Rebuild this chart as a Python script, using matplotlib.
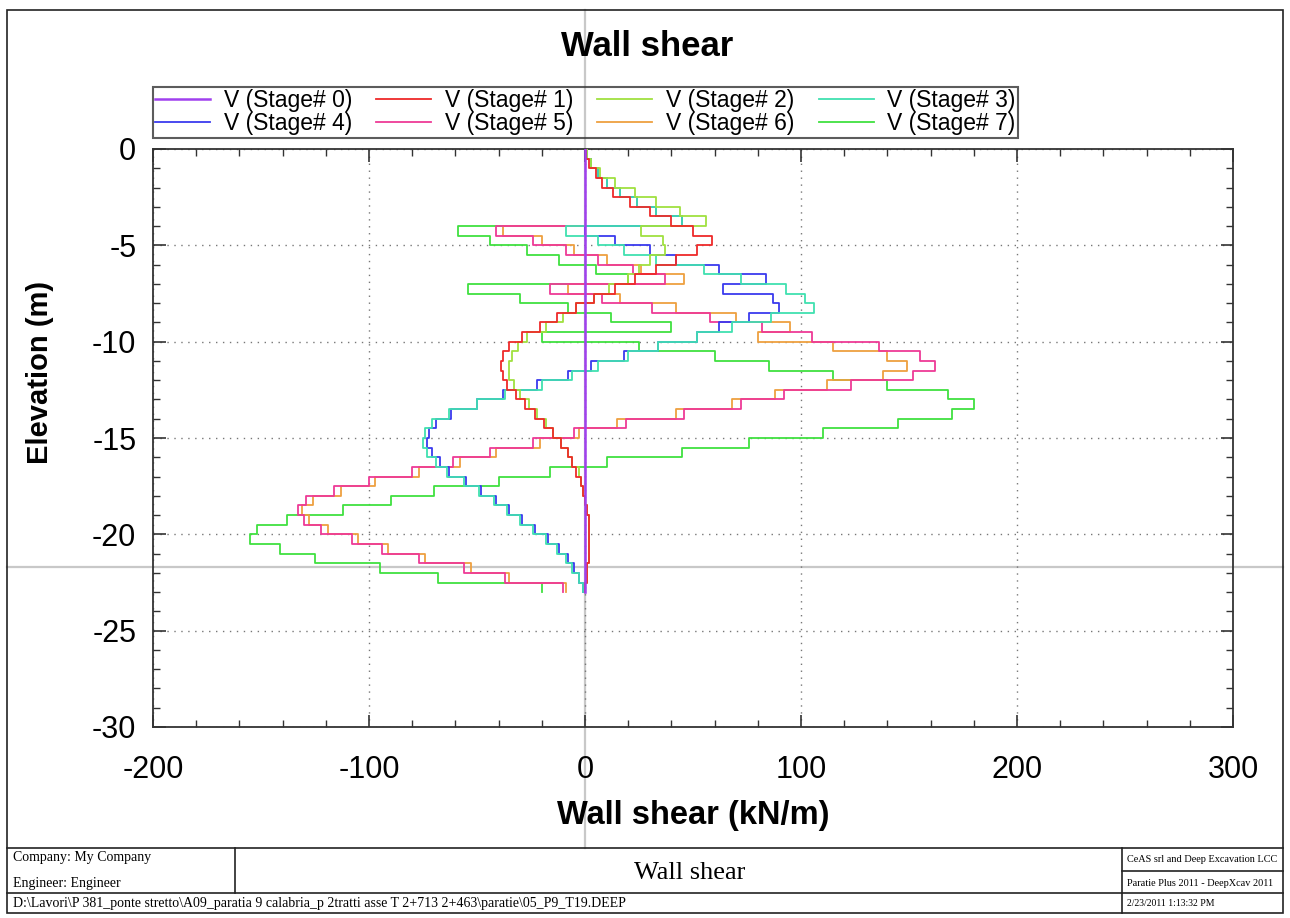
import numpy as np
import matplotlib
matplotlib.use("Agg")
import matplotlib.pyplot as plt
from matplotlib.lines import Line2D
from matplotlib.patches import Rectangle
from matplotlib.ticker import MultipleLocator

plt.rcParams['font.family'] = ['Liberation Sans', 'DejaVu Sans']
plt.rcParams['axes.unicode_minus'] = False

# element boundaries along the wall (m)
elev = [0.0, -0.5, -1.0, -1.5, -2.0, -2.5, -3.0, -3.5, -4.0, -4.5, -5.0, -5.5,
        -6.0, -6.5, -7.0, -7.5, -8.0, -8.5, -9.0, -9.5, -10.0, -10.5, -11.0, -11.5,
        -12.0, -12.5, -13.0, -13.5, -14.0, -14.5, -15.0, -15.5, -16.0, -16.5, -17.0,
        -17.5, -18.0, -18.5, -19.0, -19.5, -20.0, -20.5, -21.0, -21.5, -22.0, -22.5, -23.0]

# shear per element (kN/m), top to bottom
v_stage0 = [0, 0, 0, 0, 0, 0, 0, 0, 0, 0, 0, 0, 0, 0, 0, 0, 0, 0, 0, 0, 0, 0, 0,
            0, 0, 0, 0, 0, 0, 0, 0, 0, 0, 0, 0, 0, 0, 0, 0, 0, 0, 0, 0, 0, 0, 0]
v_stage1 = [0.5, 2, 5, 8, 13, 21, 30, 40, 50, 59, 52, 42, 33, 23, 14, 4, -4, -13, -21, -29,
            -35, -38, -39, -38, -36, -32, -28, -23, -19, -15, -11, -8, -6, -4, -2, -1,
            0, 1, 2, 2, 2, 2, 2, 1, 1, 0]
v_stage2 = [1, 3, 7, 14, 23, 33, 44, 56, 26, 36, 37, 30, 25, 20, 11, 4, -4, -10, -18, -27,
            -31, -34, -35, -35, -33, -30, -26, -22, -18, -15, -11, -8, -6, -3, -2, -1,
            0, 1, 2, 2, 2, 2, 2, 1, 1, 0]
v_stage3 = [1, 3, 6, 10, 16, 24, 33, 45, -9, 6, 18, 33, 55, 72, 93, 102, 106, 86, 68, 52,
            34, 20, 6, -6, -20, -37, -50, -63, -71, -74, -75, -73, -69, -64, -56, -49,
            -42, -36, -30, -24, -18, -13, -9, -6, -3, -1]
v_stage4 = [1, 3, 6, 10, 16, 24, 33, 45, 0, 14, 30, 42, 62, 84, 64, 87, 90, 76, 62, 52,
            34, 18, 3, -8, -22, -38, -50, -62, -69, -72, -73, -71, -67, -63, -55, -48,
            -41, -35, -29, -23, -17, -12, -8, -5, -3, -1]
v_stage5 = [1, 3, 6, 10, 16, 24, 33, 45, -41, -24, -9, 6, 22, 37, -16, 8, 31, 58, 82, 105,
            136, 155, 162, 152, 123, 92, 72, 46, 19, -5, -24, -44, -61, -80, -100, -116,
            -129, -133, -130, -122, -108, -94, -77, -56, -37, -10]
v_stage6 = [1, 3, 6, 10, 16, 24, 33, 45, -38, -20, -5, 10, 26, 46, -8, 16, 42, 70, 95, 80,
            115, 140, 149, 138, 112, 88, 68, 42, 15, -3, -21, -41, -58, -77, -97, -113,
            -126, -131, -128, -119, -105, -91, -74, -53, -35, -9]
v_stage7 = [1, 3, 6, 10, 16, 24, 33, 45, -59, -44, -27, -12, 5, 20, -54, -30, -8, 12, 40, -20,
            25, 60, 85, 115, 140, 168, 180, 170, 145, 110, 76, 45, 10, -16, -40, -70,
            -90, -112, -138, -152, -155, -141, -125, -95, -68, -20]

stages = [v_stage0, v_stage1, v_stage2, v_stage3, v_stage4, v_stage5, v_stage6, v_stage7]
labels = ['V (Stage# %d)' % i for i in range(8)]
colors = ['#a040ee', '#ee2a2a', '#a0e040', '#40e0b0', '#3a3aee', '#ee3a96', '#eea040', '#40e040']

W, H = 1290, 918


def fx(px):
    return px / W


def fy(py):
    return 1 - py / H


fig = plt.figure(figsize=(W / 100, H / 100), dpi=100)
ax = fig.add_axes([fx(153), fy(727), fx(1233) - fx(153), fy(149) - fy(727)])

# step outline: constant shear over each element
zz = np.repeat(elev, 2)[1:-1]
handles = []
for i in range(7, -1, -1):
    xx = np.repeat(stages[i], 2)
    lw = 1.8 if i == 0 else 1.3
    h, = ax.plot(xx, zz, color=colors[i], lw=lw, zorder=5 if i == 0 else 3)
    handles.append(h)
handles = handles[::-1]

# grey crosshair through the whole sheet
ax.axvline(0, ymin=-0.209, ymax=1.24, color='#c8c8c8', lw=1.6, clip_on=False, zorder=1)
ax.axhline(-21.7, xmin=-0.135, xmax=1.0463, color='#c8c8c8', lw=1.6, clip_on=False, zorder=1)

ax.set_xlim(-200, 300)
ax.set_ylim(-30, 0)
ax.xaxis.set_major_locator(MultipleLocator(100))
ax.xaxis.set_minor_locator(MultipleLocator(20))
ax.yaxis.set_major_locator(MultipleLocator(5))
ax.yaxis.set_minor_locator(MultipleLocator(1))
ax.tick_params(which='both', direction='in', top=True, right=True, color='#333333')
ax.tick_params(which='major', length=9, width=1.2, labelsize=22)
ax.tick_params(which='minor', length=5, width=1)
ax.tick_params(axis='x', pad=20)
ax.tick_params(axis='y', pad=12)
ax.grid(True, which='major', linestyle=(0, (1, 4)), color='#777777', lw=1)
for s in ax.spines.values():
    s.set_color('#333333')
    s.set_linewidth(1.3)

ax.set_xlabel('Wall shear (kN/m)', fontsize=23.5, fontweight='bold', labelpad=11)
ax.set_ylabel('Elevation (m)', fontsize=21, fontweight='bold')
ax.yaxis.set_label_coords(-0.0917, 0.614)
fig.text(fx(647), fy(46), 'Wall shear', fontsize=25, fontweight='bold', ha='center', va='center')

order = [0, 4, 1, 5, 2, 6, 3, 7]
leg = fig.legend([handles[i] for i in order], [labels[i] for i in order], ncol=4,
                 loc='upper left', mode='expand', borderaxespad=0,
                 bbox_to_anchor=(fx(153), fy(135), fx(1018) - fx(153), fy(87) - fy(135)),
                 fontsize=16.5, frameon=True, fancybox=False, handlelength=2.4,
                 handletextpad=0.6, labelspacing=0.0, borderpad=0.1, columnspacing=0.8)
leg.get_frame().set_edgecolor('#333333')
leg.get_frame().set_linewidth(1.5)
leg.get_frame().set_facecolor('none')

# sheet frame and title block
fig.add_artist(Rectangle((fx(7), fy(913)), fx(1283) - fx(7), fy(10) - fy(913),
                         fill=False, lw=1.2, ec='#222222', transform=fig.transFigure))


def hline(y, x0, x1):
    fig.add_artist(Line2D([fx(x0), fx(x1)], [fy(y), fy(y)], color='#222222', lw=1.2,
                          transform=fig.transFigure))


def vline(x, y0, y1):
    fig.add_artist(Line2D([fx(x), fx(x)], [fy(y0), fy(y1)], color='#222222', lw=1.2,
                          transform=fig.transFigure))


hline(848, 7, 1283)
hline(893, 7, 1283)
hline(871, 1122, 1283)
vline(235, 848, 893)
vline(1122, 848, 913)

serif = ['Liberation Serif', 'DejaVu Serif']
fig.text(fx(13), fy(858), 'Company: My Company', fontsize=10, family=serif, va='center')
fig.text(fx(13), fy(883), 'Engineer: Engineer', fontsize=10, family=serif, va='center')
fig.text(fx(690), fy(873), 'Wall shear', fontsize=19, family=serif, va='center', ha='center')
fig.text(fx(1127), fy(859), 'CeAS srl and Deep Excavation LCC', fontsize=7.4, family=serif, va='center')
fig.text(fx(1127), fy(883), 'Paratie Plus 2011 - DeepXcav 2011', fontsize=7.4, family=serif, va='center')
fig.text(fx(13), fy(904), r'D:\Lavori\P 381_ponte stretto\A09_paratia 9 calabria_p 2tratti asse T 2+713 2+463\paratie\05_P9_T19.DEEP',
         fontsize=10, family=serif, va='center')
fig.text(fx(1127), fy(904), '2/23/2011 1:13:32 PM', fontsize=7, family=serif, va='center')

fig.savefig('out.png', dpi=100)
